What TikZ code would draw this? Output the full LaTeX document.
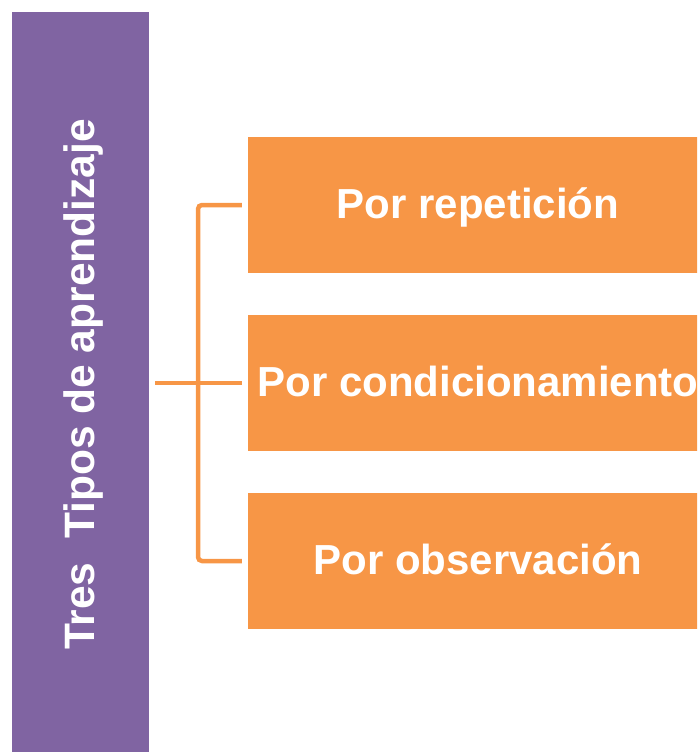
\documentclass[tikz,border=0pt]{standalone}
\usepackage{fontspec}
\setmainfont{Liberation Sans}
\definecolor{purp}{HTML}{8064A2}
\definecolor{orng}{HTML}{F79646}
\tikzset{
  obox/.style={fill=orng, draw=none, inner sep=0pt, minimum width=461pt, minimum height=136pt,
    text=white, font=\fontsize{42}{50}\selectfont\bfseries, text height=26pt, text depth=0pt},
  pbox/.style={fill=purp, draw=none, inner sep=0pt, rotate=90, minimum width=745pt, minimum height=137pt,
    text=white, font=\fontsize{42.5}{50}\selectfont\bfseries, text height=27pt, text depth=0pt},
  link/.style={draw=orng, line width=4.5pt}
}
\begin{document}
\begin{tikzpicture}[x=1pt,y=-1pt]
\useasboundingbox (0,0) rectangle (697,752);
\clip (0,0) rectangle (697,752);
\node[pbox] (title) at (80.5,384.5) {Tres\ \ Tipos de aprendizaje};
\node[obox] (b1) at (478,205) {Por repetición};
\node[obox] (b2) at (478,383) {Por condicionamiento};
\node[obox] (b3) at (478,561) {Por observación};
\coordinate (hub) at (198,383);
\coordinate (stub) at (155,383);
\draw[link, rounded corners=4pt, shorten <=5.5pt, shorten >=5.5pt] (b1.west) -| (hub) |- (b3.west);
\draw[link, shorten >=5.5pt] (stub) -- (b2.west);
\end{tikzpicture}
\end{document}
